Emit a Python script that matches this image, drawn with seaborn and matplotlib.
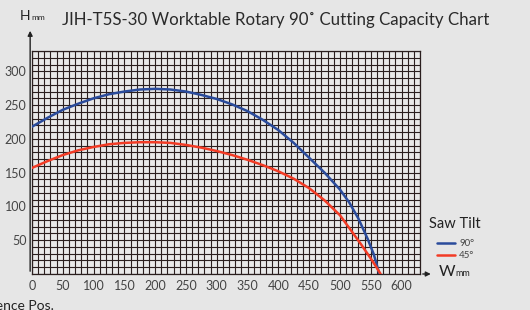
import pandas as pd
import seaborn as sns
from matplotlib import pyplot as plt

# cutting capacity, saw tilt 90 deg (W mm, H mm)
w_90 = [0, 25, 50, 75, 100, 125, 150, 175, 200, 225, 250, 275, 300, 325, 350,
        375, 400, 425, 450, 475, 500, 515, 530, 545, 555, 564]
h_90 = [218, 231, 243, 252, 260, 266, 270, 273, 274, 273, 270, 265, 259, 251, 241,
        228, 213, 194, 172, 150, 125, 106, 82, 52, 29, 0]

# saw tilt 45 deg
w_45 = [0, 25, 50, 75, 100, 125, 150, 175, 200, 225, 250, 275, 300, 325, 350,
        375, 400, 425, 450, 475, 500, 520, 535, 550, 560, 566]
h_45 = [157, 167, 176, 183, 188, 192, 194, 195, 195, 194, 191, 187, 182, 176, 169,
        161, 152, 141, 127, 109, 87, 62, 43, 23, 9, 0]

x_ticks = [0, 50, 100, 150, 200, 250, 300, 350, 400, 450, 500, 550, 600]
y_ticks = [50, 100, 150, 200, 250, 300]

df = pd.concat([
    pd.DataFrame({'W': w_90, 'H': h_90, 'tilt': '90°'}),
    pd.DataFrame({'W': w_45, 'H': h_45, 'tilt': '45°'}),
])

sns.set_style('white')
plt.rcParams['font.family'] = ['Lato', 'DejaVu Sans']

fig = plt.figure(figsize=(5.3, 3.1), dpi=100, facecolor='#e6e6e6')
ax = fig.add_axes([32 / 530, 36 / 310, 388 / 530, 223 / 310])
ax.set_facecolor('#e9e9e9')

grid_c = '#2b1f1f'
for gx in range(0, 631, 10):
    ax.axvline(gx, color=grid_c, lw=0.8, zorder=1)
for gy in range(0, 331, 10):
    ax.axhline(gy, color=grid_c, lw=0.8, zorder=1)

palette = {'90°': '#2a4b9b', '45°': '#f23b25'}
sns.lineplot(data=df, x='W', y='H', hue='tilt', palette=palette, sort=False,
             estimator=None, lw=1.8, ax=ax, legend=False, zorder=3)

ax.set_xlim(0, 630)
ax.set_ylim(0, 330)
ax.set_xticks(x_ticks)
ax.set_yticks(y_ticks)
ax.set_xticklabels([str(t) for t in x_ticks], color='#444444', fontsize=9)
ax.set_yticklabels([str(t) for t in y_ticks], color='#444444', fontsize=9)
ax.tick_params(length=0, pad=4)
ax.set_xlabel('')
ax.set_ylabel('')
for s in ax.spines.values():
    s.set_color(grid_c)
    s.set_linewidth(0.9)

# axis arrows
ax.annotate('', xy=(-3, 364), xytext=(-3, 0), xycoords='data',
            arrowprops=dict(arrowstyle='-|>', color='#222222', lw=1.0,
                            mutation_scale=7), annotation_clip=False)
ax.annotate('', xy=(652, 0), xytext=(630, 0), xycoords='data',
            arrowprops=dict(arrowstyle='-|>', color='#222222', lw=1.0,
                            mutation_scale=7), annotation_clip=False)

fig.text(20 / 530, 1 - 16 / 310, 'H', fontsize=10, color='#222222', va='center')
fig.text(31 / 530, 1 - 17 / 310, 'mm', fontsize=6, color='#222222', va='center')
fig.text(439 / 530, 1 - 272 / 310, 'W', fontsize=11.5, color='#222222', va='center')
fig.text(455 / 530, 1 - 274 / 310, 'mm', fontsize=6.5, color='#222222', va='center')

fig.text(62 / 530, 1 - 20 / 310,
         'JIH-T5S-30 Worktable Rotary 90˚ Cutting Capacity Chart',
         fontsize=12.2, color='#2a2a2a', va='center')

# legend
fig.text(429 / 530, 1 - 224 / 310, 'Saw Tilt', fontsize=10.5, color='#222222', va='center')
for i, lab in enumerate(['90°', '45°']):
    yy = 1 - (243 + 12 * i) / 310
    fig.add_artist(plt.Line2D([437 / 530, 455 / 530], [yy, yy],
                              color=palette[lab], lw=1.8))
    fig.text(459 / 530, yy, lab, fontsize=7, color='#444444', va='center')

fig.text(-12 / 530, 1 - 306 / 310, 'Fence Pos.', fontsize=10, color='#222222', va='center')

fig.savefig('out.png', dpi=100, facecolor=fig.get_facecolor())
